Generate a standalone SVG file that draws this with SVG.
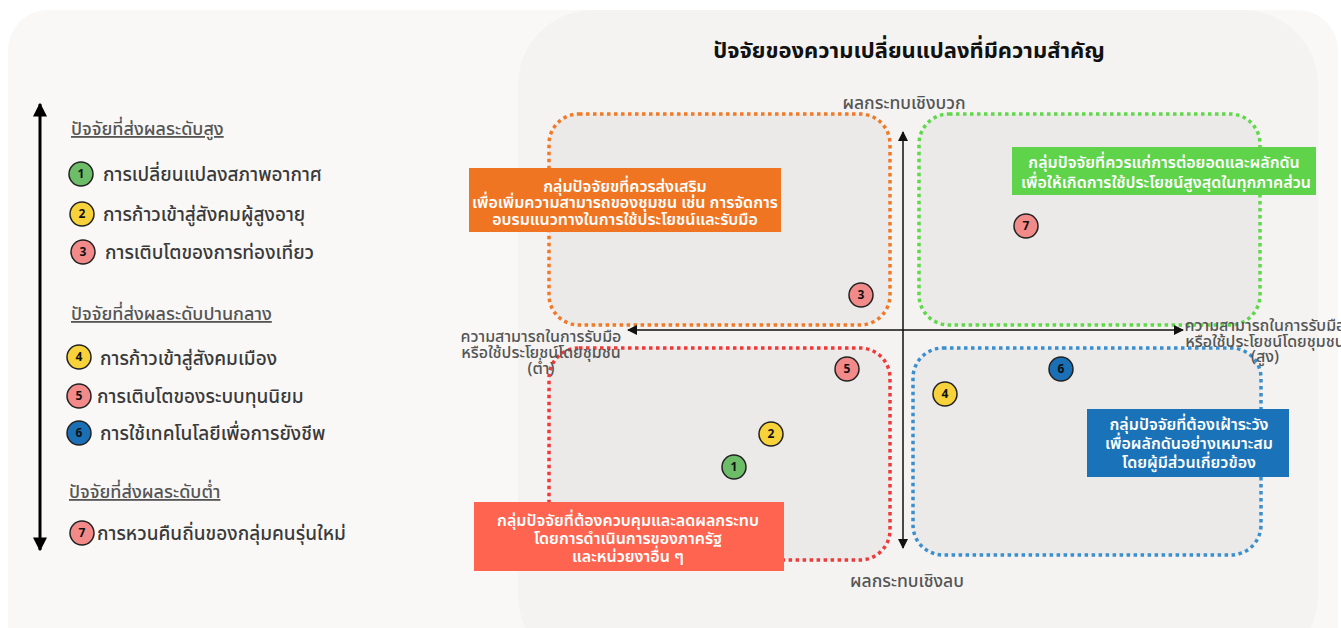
<svg xmlns="http://www.w3.org/2000/svg" width="1341" height="628" viewBox="0 0 1341 628">
<defs>
<marker id="ah" viewBox="0 0 10 10" refX="9" refY="5" markerWidth="10" markerHeight="10" markerUnits="userSpaceOnUse" orient="auto-start-reverse"><path d="M0,0 L10,5 L0,10 Z" fill="#111"/></marker>
<marker id="ahb" viewBox="0 0 10 10" refX="9" refY="5" markerWidth="14" markerHeight="14" markerUnits="userSpaceOnUse" orient="auto-start-reverse"><path d="M0,0 L10,5 L0,10 Z" fill="#000"/></marker>
</defs>
<style>
text{font-family:"Noto Sans Thai","Noto Sans","Liberation Sans","Noto Sans CJK SC",sans-serif}
.q{fill:#ebeae9;stroke-width:3.5;stroke-dasharray:3.5 3.5}
.lg{font-size:19px;fill:#3a3a3a;font-weight:500}
.hd{font-size:18px;fill:#555;text-decoration:underline;font-weight:500}
.c{stroke:#222;stroke-width:1.5}
.n{font-size:12px;font-weight:bold;fill:#111;text-anchor:middle}
.bt{fill:#fff;font-size:16px;text-anchor:middle;font-weight:600}
.ax{font-size:17.5px;fill:#555;text-anchor:middle;font-weight:500}
.axs{font-size:16px;fill:#555;text-anchor:middle;font-weight:500}
</style>
<rect x="0" y="0" width="1341" height="628" fill="#fff"/>
<rect x="8" y="10" width="1330" height="660" rx="40" fill="#f9f8f7"/>
<rect x="518" y="10" width="800" height="660" rx="75" fill="#f4f3f1"/>
<text x="909" y="58" font-size="22" font-weight="bold" fill="#111" text-anchor="middle">ปัจจัยของความเปลี่ยนแปลงที่มีความสำคัญ</text>

<g id="legend">
<line x1="40" y1="550" x2="40" y2="104" stroke="#000" stroke-width="3" marker-start="url(#ahb)" marker-end="url(#ahb)"/>
<text class="hd" x="71" y="135">ปัจจัยที่ส่งผลระดับสูง</text>
<g id="l1"><circle class="c" cx="81" cy="174" r="12" fill="#6dbd68"/><text class="n" x="81" y="178">1</text><text class="lg" x="103" y="181">การเปลี่ยนแปลงสภาพอากาศ</text></g>
<g id="l2"><circle class="c" cx="82" cy="214" r="12" fill="#f8d23a"/><text class="n" x="82" y="218">2</text><text class="lg" x="103" y="221">การก้าวเข้าสู่สังคมผู้สูงอายุ</text></g>
<g id="l3"><circle class="c" cx="83" cy="252" r="12" fill="#f38a8a"/><text class="n" x="83" y="256">3</text><text class="lg" x="105" y="259">การเติบโตของการท่องเที่ยว</text></g>
<text class="hd" x="71" y="320">ปัจจัยที่ส่งผลระดับปานกลาง</text>
<g id="l4"><circle class="c" cx="79" cy="357" r="12" fill="#f8d23a"/><text class="n" x="79" y="361">4</text><text class="lg" x="100" y="365">การก้าวเข้าสู่สังคมเมือง</text></g>
<g id="l5"><circle class="c" cx="79" cy="396" r="12" fill="#f38a8a"/><text class="n" x="79" y="400">5</text><text class="lg" x="97" y="403">การเติบโตของระบบทุนนิยม</text></g>
<g id="l6"><circle class="c" cx="79" cy="433" r="12" fill="#1a6fb5"/><text class="n" x="79" y="437">6</text><text class="lg" x="100" y="440">การใช้เทคโนโลยีเพื่อการยังชีพ</text></g>
<text class="hd" x="69" y="498">ปัจจัยที่ส่งผลระดับต่ำ</text>
<g id="l7"><circle class="c" cx="82" cy="533" r="12" fill="#f38a8a"/><text class="n" x="82" y="537">7</text><text class="lg" x="97" y="540">การหวนคืนถิ่นของกลุ่มคนรุ่นใหม่</text></g>
</g>

<g id="quadrants">
<rect id="q-tl" class="q" x="549" y="114" width="341" height="211" rx="30" stroke="#f07a28"/>
<rect id="q-tr" class="q" x="919" y="114" width="341" height="211" rx="30" stroke="#5fd84a"/>
<rect id="q-bl" class="q" x="549" y="348" width="341" height="212" rx="30" stroke="#f03a3a"/>
<rect id="q-br" class="q" x="913" y="348" width="348" height="207" rx="30" stroke="#3a8fd0"/>
</g>

<g id="connectors">
<line x1="903" y1="548" x2="903" y2="132" stroke="#111" stroke-width="1.5" marker-start="url(#ah)" marker-end="url(#ah)"/>
<line x1="628" y1="330" x2="1183" y2="330" stroke="#111" stroke-width="1.5" marker-start="url(#ah)" marker-end="url(#ah)"/>
</g>

<g id="axis-labels">
<text class="ax" x="904" y="109">ผลกระทบเชิงบวก</text>
<text class="ax" x="907" y="587">ผลกระทบเชิงลบ</text>
<text class="axs" x="541" y="342">ความสามารถในการรับมือ</text>
<text class="axs" x="541" y="358">หรือใช้ประโยชน์โดยชุมชน</text>
<text class="axs" x="541" y="374">(ต่ำ)</text>
<text class="axs" x="1265" y="331">ความสามารถในการรับมือ</text>
<text class="axs" x="1265" y="347">หรือใช้ประโยชน์โดยชุมชน</text>
<text class="axs" x="1265" y="362">(สูง)</text>
</g>

<g id="box-orange">
<rect x="469" y="168" width="312" height="64" fill="#f07522"/>
<text class="bt" x="625" y="192" font-size="17.5">กลุ่มปัจจัยขที่ควรส่งเสริม</text>
<text class="bt" x="625" y="208">เพื่อเพิ่มความสามารถของชุมชน เช่น การจัดการ</text>
<text class="bt" x="625" y="225">อบรมแนวทางในการใช้ประโยชน์และรับมือ</text>
</g>
<g id="box-green">
<rect x="1012" y="147" width="304" height="48" fill="#5fd34a"/>
<text class="bt" x="1164" y="168" font-size="17.5">กลุ่มปัจจัยที่ควรแก่การต่อยอดและผลักดัน</text>
<text class="bt" x="1166" y="188" font-size="15">เพื่อให้เกิดการใช้ประโยชน์สูงสุดในทุกภาคส่วน</text>
</g>
<g id="box-blue">
<rect x="1087" y="409" width="202" height="68" fill="#1a73b8"/>
<text class="bt" x="1189" y="430" font-size="18">กลุ่มปัจจัยที่ต้องเฝ้าระวัง</text>
<text class="bt" x="1189" y="449" font-size="18">เพื่อผลักดันอย่างเหมาะสม</text>
<text class="bt" x="1189" y="468" font-size="18">โดยผู้มีส่วนเกี่ยวข้อง</text>
</g>
<g id="box-red">
<rect x="474" y="502" width="310" height="69" fill="#fe6450"/>
<text class="bt" x="628" y="526" font-size="17.5">กลุ่มปัจจัยที่ต้องควบคุมและลดผลกระทบ</text>
<text class="bt" x="628" y="544" font-size="17.5">โดยการดำเนินการของภาครัฐ</text>
<text class="bt" x="628" y="562" font-size="17.5">และหน่วยงาอื่น ๆ</text>
</g>

<g id="points">
<g id="p7"><circle class="c" cx="1026" cy="226" r="12" fill="#f38a8a"/><text class="n" x="1026" y="230">7</text></g>
<g id="p3"><circle class="c" cx="861" cy="295" r="12" fill="#f38a8a"/><text class="n" x="861" y="299">3</text></g>
<g id="p5"><circle class="c" cx="847" cy="369" r="12" fill="#f38a8a"/><text class="n" x="847" y="373">5</text></g>
<g id="p6"><circle class="c" cx="1061" cy="369" r="12" fill="#1a6fb5"/><text class="n" x="1061" y="373">6</text></g>
<g id="p4"><circle class="c" cx="945" cy="394" r="12" fill="#f8d23a"/><text class="n" x="945" y="398">4</text></g>
<g id="p2"><circle class="c" cx="771" cy="434" r="12" fill="#f8d23a"/><text class="n" x="771" y="438">2</text></g>
<g id="p1"><circle class="c" cx="734" cy="467" r="12" fill="#6dbd68"/><text class="n" x="734" y="471">1</text></g>
</g>
</svg>
